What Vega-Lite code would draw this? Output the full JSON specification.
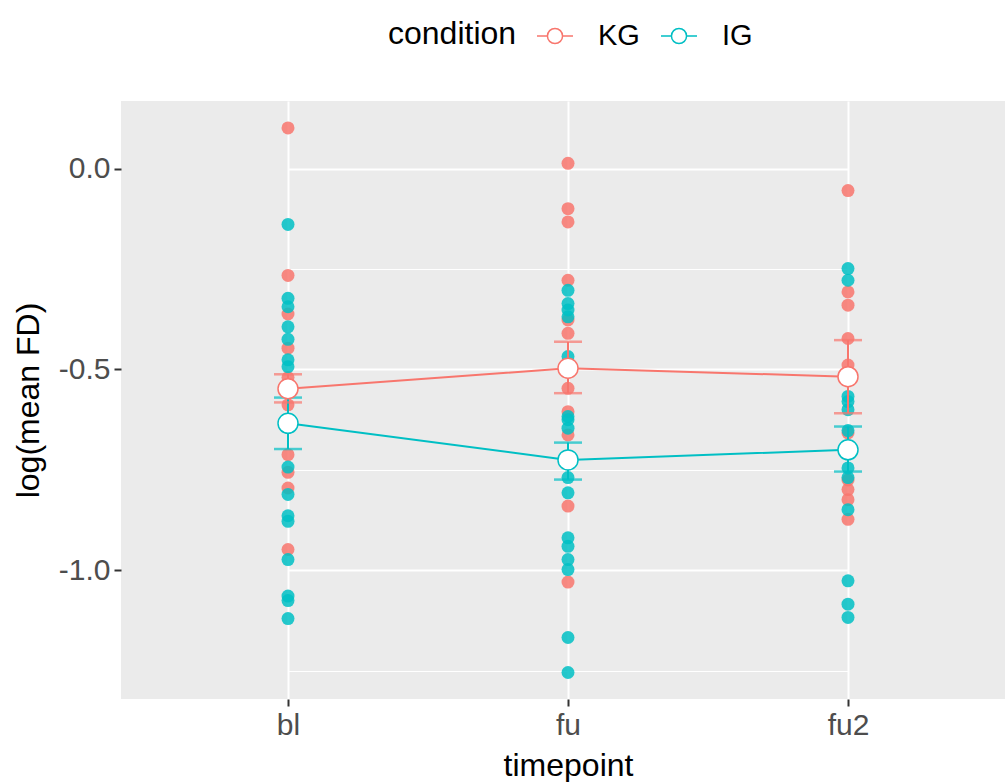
{
  "$schema": "https://vega.github.io/schema/vega-lite/v6.json",
  "autosize": {"type": "none"},
  "width": 884,
  "height": 598,
  "padding": {"left": 121, "top": 101, "right": 0, "bottom": 83},
  "background": "white",
  "config": {
    "view": {"fill": "#EBEBEB", "stroke": null},
    "font": "Liberation Sans"
  },
  "datasets": {
    "raw": [
      {"timepoint": "bl", "condition": "KG", "value": 0.101},
      {"timepoint": "bl", "condition": "KG", "value": -0.266},
      {"timepoint": "bl", "condition": "KG", "value": -0.362},
      {"timepoint": "bl", "condition": "KG", "value": -0.447},
      {"timepoint": "bl", "condition": "KG", "value": -0.52},
      {"timepoint": "bl", "condition": "KG", "value": -0.588},
      {"timepoint": "bl", "condition": "KG", "value": -0.712},
      {"timepoint": "bl", "condition": "KG", "value": -0.756},
      {"timepoint": "bl", "condition": "KG", "value": -0.795},
      {"timepoint": "bl", "condition": "KG", "value": -0.948},
      {"timepoint": "bl", "condition": "IG", "value": -0.139},
      {"timepoint": "bl", "condition": "IG", "value": -0.323},
      {"timepoint": "bl", "condition": "IG", "value": -0.344},
      {"timepoint": "bl", "condition": "IG", "value": -0.394},
      {"timepoint": "bl", "condition": "IG", "value": -0.425},
      {"timepoint": "bl", "condition": "IG", "value": -0.476},
      {"timepoint": "bl", "condition": "IG", "value": -0.493},
      {"timepoint": "bl", "condition": "IG", "value": -0.743},
      {"timepoint": "bl", "condition": "IG", "value": -0.811},
      {"timepoint": "bl", "condition": "IG", "value": -0.864},
      {"timepoint": "bl", "condition": "IG", "value": -0.878},
      {"timepoint": "bl", "condition": "IG", "value": -0.973},
      {"timepoint": "bl", "condition": "IG", "value": -1.064},
      {"timepoint": "bl", "condition": "IG", "value": -1.075},
      {"timepoint": "bl", "condition": "IG", "value": -1.12},
      {"timepoint": "fu", "condition": "KG", "value": 0.013},
      {"timepoint": "fu", "condition": "KG", "value": -0.1},
      {"timepoint": "fu", "condition": "KG", "value": -0.133},
      {"timepoint": "fu", "condition": "KG", "value": -0.278},
      {"timepoint": "fu", "condition": "KG", "value": -0.377},
      {"timepoint": "fu", "condition": "KG", "value": -0.41},
      {"timepoint": "fu", "condition": "KG", "value": -0.547},
      {"timepoint": "fu", "condition": "KG", "value": -0.605},
      {"timepoint": "fu", "condition": "KG", "value": -0.663},
      {"timepoint": "fu", "condition": "KG", "value": -0.84},
      {"timepoint": "fu", "condition": "KG", "value": -1.029},
      {"timepoint": "fu", "condition": "IG", "value": -0.303},
      {"timepoint": "fu", "condition": "IG", "value": -0.336},
      {"timepoint": "fu", "condition": "IG", "value": -0.352},
      {"timepoint": "fu", "condition": "IG", "value": -0.369},
      {"timepoint": "fu", "condition": "IG", "value": -0.468},
      {"timepoint": "fu", "condition": "IG", "value": -0.617},
      {"timepoint": "fu", "condition": "IG", "value": -0.625},
      {"timepoint": "fu", "condition": "IG", "value": -0.646},
      {"timepoint": "fu", "condition": "IG", "value": -0.769},
      {"timepoint": "fu", "condition": "IG", "value": -0.807},
      {"timepoint": "fu", "condition": "IG", "value": -0.919},
      {"timepoint": "fu", "condition": "IG", "value": -0.94},
      {"timepoint": "fu", "condition": "IG", "value": -0.973},
      {"timepoint": "fu", "condition": "IG", "value": -0.998},
      {"timepoint": "fu", "condition": "IG", "value": -1.167},
      {"timepoint": "fu", "condition": "IG", "value": -1.254},
      {"timepoint": "fu2", "condition": "KG", "value": -0.055},
      {"timepoint": "fu2", "condition": "KG", "value": -0.307},
      {"timepoint": "fu2", "condition": "KG", "value": -0.34},
      {"timepoint": "fu2", "condition": "KG", "value": -0.423},
      {"timepoint": "fu2", "condition": "KG", "value": -0.489},
      {"timepoint": "fu2", "condition": "KG", "value": -0.658},
      {"timepoint": "fu2", "condition": "KG", "value": -0.775},
      {"timepoint": "fu2", "condition": "KG", "value": -0.799},
      {"timepoint": "fu2", "condition": "KG", "value": -0.824},
      {"timepoint": "fu2", "condition": "KG", "value": -0.873},
      {"timepoint": "fu2", "condition": "IG", "value": -0.249},
      {"timepoint": "fu2", "condition": "IG", "value": -0.278},
      {"timepoint": "fu2", "condition": "IG", "value": -0.567},
      {"timepoint": "fu2", "condition": "IG", "value": -0.58},
      {"timepoint": "fu2", "condition": "IG", "value": -0.6},
      {"timepoint": "fu2", "condition": "IG", "value": -0.652},
      {"timepoint": "fu2", "condition": "IG", "value": -0.745},
      {"timepoint": "fu2", "condition": "IG", "value": -0.769},
      {"timepoint": "fu2", "condition": "IG", "value": -0.849},
      {"timepoint": "fu2", "condition": "IG", "value": -1.026},
      {"timepoint": "fu2", "condition": "IG", "value": -1.084},
      {"timepoint": "fu2", "condition": "IG", "value": -1.117}
    ],
    "summary": [
      {"timepoint": "bl", "condition": "KG", "mean": -0.548, "lo": -0.582, "hi": -0.512},
      {"timepoint": "fu", "condition": "KG", "mean": -0.497, "lo": -0.559, "hi": -0.431},
      {"timepoint": "fu2", "condition": "KG", "mean": -0.518, "lo": -0.609, "hi": -0.427},
      {"timepoint": "bl", "condition": "IG", "mean": -0.634, "lo": -0.698, "hi": -0.57},
      {"timepoint": "fu", "condition": "IG", "mean": -0.725, "lo": -0.774, "hi": -0.682},
      {"timepoint": "fu2", "condition": "IG", "mean": -0.7, "lo": -0.754, "hi": -0.642}
    ]
  },
  "encoding": {
    "x": {
      "field": "timepoint",
      "type": "nominal",
      "scale": {"type": "point", "domain": ["bl", "fu", "fu2"], "range": [167, 727], "padding": 0},
      "axis": {
        "title": "timepoint",
        "titleFontSize": 32,
        "titleFontWeight": "normal",
        "titleColor": "black",
        "titleX": 447,
        "titleY": 76,
        "titleAnchor": null,
        "titleAlign": "center",
        "titleBaseline": "alphabetic",
        "labelFontSize": 30,
        "labelColor": "#4D4D4D",
        "labelAngle": 0,
        "labelPadding": 4,
        "tickSize": 7,
        "tickWidth": 2,
        "tickColor": "#333333",
        "domain": false,
        "grid": true,
        "gridColor": "white",
        "gridWidth": 2
      }
    }
  },
  "layer": [
    {
      "data": {"name": "raw"},
      "mark": {"type": "point", "shape": "circle", "filled": true, "size": 169, "opacity": 0.85},
      "encoding": {
        "y": {
          "field": "value",
          "type": "quantitative",
          "scale": {"domain": [-1.32, 0.168], "nice": false, "zero": false},
          "axis": {
            "title": "log(mean FD)",
            "titleFontSize": 32,
            "titleFontWeight": "normal",
            "titleColor": "black",
            "titleAngle": 270,
            "titleX": -93,
            "titleY": 299,
            "titleAlign": "center",
            "titleBaseline": "middle",
            "titleAnchor": null,
            "values": [-1.25, -1, -0.75, -0.5, -0.25, 0],
            "labelExpr": "datum.value == 0 ? '0.0' : datum.value == -0.5 ? '-0.5' : datum.value == -1 ? '-1.0' : ''",
            "labelFontSize": 30,
            "labelColor": "#4D4D4D",
            "labelPadding": 4,
            "labelBaseline": "middle",
            "tickSize": 7,
            "tickWidth": 2,
            "tickColor": "#333333",
            "tickOpacity": {"condition": {"test": "datum.value == 0 || datum.value == -0.5 || datum.value == -1", "value": 1}, "value": 0},
            "domain": false,
            "grid": true,
            "gridColor": "white",
            "gridWidth": {"condition": {"test": "datum.value == 0 || datum.value == -0.5 || datum.value == -1", "value": 2}, "value": 1}
          }
        },
        "color": {
          "field": "condition",
          "type": "nominal",
          "scale": {"domain": ["IG", "KG"], "range": ["#00BFC4", "#F8766D"]},
          "legend": null
        }
      }
    },
    {
      "data": {"name": "summary"},
      "mark": {"type": "line", "strokeWidth": 2},
      "encoding": {
        "y": {"field": "mean", "type": "quantitative"},
        "color": {"field": "condition", "type": "nominal", "legend": null}
      }
    },
    {
      "data": {"name": "summary"},
      "mark": {"type": "rule", "strokeWidth": 2},
      "encoding": {
        "y": {"field": "lo", "type": "quantitative"},
        "y2": {"field": "hi"},
        "color": {"field": "condition", "type": "nominal", "legend": null}
      }
    },
    {
      "data": {"name": "summary"},
      "mark": {"type": "tick", "size": 28, "thickness": 2.5},
      "encoding": {
        "y": {"field": "lo", "type": "quantitative"},
        "color": {"field": "condition", "type": "nominal", "legend": null}
      }
    },
    {
      "data": {"name": "summary"},
      "mark": {"type": "tick", "size": 28, "thickness": 2.5},
      "encoding": {
        "y": {"field": "hi", "type": "quantitative"},
        "color": {"field": "condition", "type": "nominal", "legend": null}
      }
    },
    {
      "data": {"name": "summary"},
      "mark": {"type": "point", "shape": "circle", "filled": true, "fill": "white", "size": 400, "strokeWidth": 1.5, "opacity": 1},
      "encoding": {
        "y": {"field": "mean", "type": "quantitative"},
        "stroke": {
          "field": "condition",
          "type": "nominal",
          "scale": {"domain": ["KG", "IG"], "range": ["#F8766D", "#00BFC4"]},
          "legend": {
            "orient": "none",
            "direction": "horizontal",
            "legendX": 267,
            "legendY": -84,
            "title": "condition",
            "titleOrient": "left",
            "titleFontSize": 32,
            "titleFontWeight": "normal",
            "titleColor": "black",
            "titlePadding": 19,
            "titleBaseline": "middle",
            "labelFontSize": 29,
            "labelColor": "black",
            "labelOffset": 24,
            "columnPadding": 18,
            "symbolType": "M-1,0H-0.42M0.42,0H1M-0.42,0A0.42,0.42,0,1,0,0.42,0A0.42,0.42,0,1,0,-0.42,0",
            "symbolSize": 1296,
            "symbolStrokeWidth": 1.5,
            "encode": {
              "symbols": {
                "update": {
                  "fill": {"value": "white"},
                  "strokeWidth": {"value": 1.5},
                  "opacity": {"value": 1}
                }
              }
            }
          }
        }
      }
    }
  ]
}
